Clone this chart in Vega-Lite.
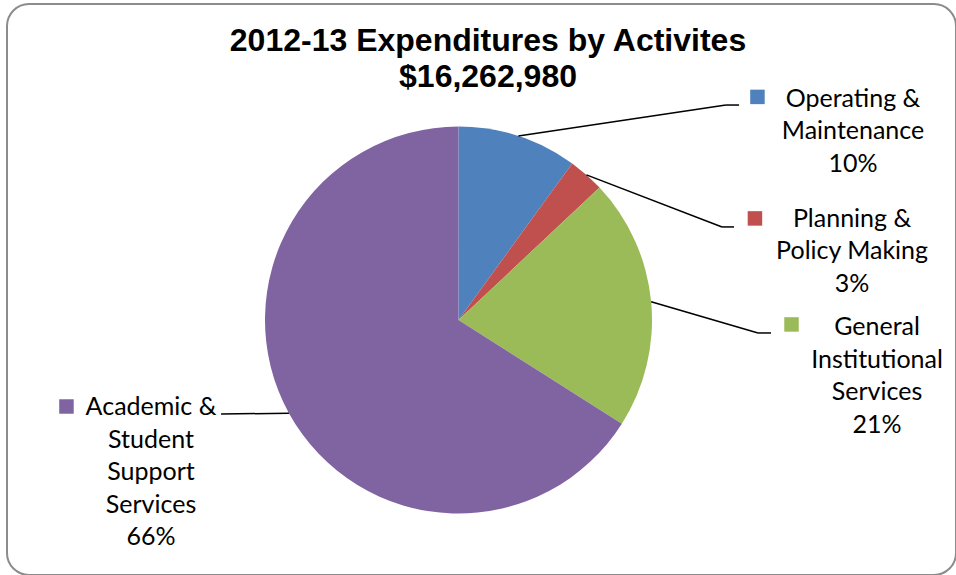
{
  "$schema": "https://vega.github.io/schema/vega-lite/v6.json",
  "width": 949,
  "height": 571,
  "autosize": {"type": "none"},
  "padding": {"left": 7, "top": 4, "right": 0, "bottom": 0},
  "background": "white",
  "title": {
    "text": ["2012-13 Expenditures by Activites", "$16,262,980"],
    "font": "Liberation Sans",
    "fontSize": 32,
    "fontWeight": "bold",
    "lineHeight": 36,
    "color": "black",
    "anchor": "middle",
    "frame": "group",
    "dx": 6.5,
    "baseline": "top",
    "offset": -90
  },
  "data": {
    "values": [
      {"order": 1, "activity": "Operating & Maintenance", "share": 10, "label": ["Operating &", "Maintenance", "10%"]},
      {"order": 2, "activity": "Planning & Policy Making", "share": 3, "label": ["Planning &", "Policy Making", "3%"]},
      {"order": 3, "activity": "General Institutional Services", "share": 21, "label": ["General", "Institutional", "Services", "21%"]},
      {"order": 4, "activity": "Academic & Student Support Services", "share": 66, "label": ["Academic &", "Student", "Support", "Services", "66%"]}
    ]
  },
  "transform": [
    {"window": [{"op": "sum", "field": "share", "as": "cumEnd"}], "sort": [{"field": "order"}]},
    {"joinaggregate": [{"op": "sum", "field": "share", "as": "total"}]},
    {"calculate": "datum.cumEnd - datum.share", "as": "cumStart"},
    {"calculate": "2 * PI * (datum.cumEnd - datum.share / 2) / datum.total", "as": "midAngle"},
    {"calculate": "100 * sin(datum.midAngle)", "as": "startX"},
    {"calculate": "100 * cos(datum.midAngle)", "as": "startY"},
    {"calculate": "[138.2, 136.2, 154.8, -122.7][datum.order - 1]", "as": "elbowX"},
    {"calculate": "[111.1, 48.1, -6.7, -48.6][datum.order - 1]", "as": "elbowY"},
    {"calculate": "[145.0, 142.4, 161.5, -122.7][datum.order - 1]", "as": "endX"},
    {"calculate": "[154.5, 153.2, 172.1, -202.6][datum.order - 1]", "as": "keyX"},
    {"calculate": "[115.3, 52.5, -2.3, -44.7][datum.order - 1]", "as": "keyY"},
    {"calculate": "[203.9, 203.4, 216.3, -158.9][datum.order - 1]", "as": "textX"},
    {"calculate": "[110.1, 48.1, -7.8, -49.1][datum.order - 1]", "as": "textY"}
  ],
  "layer": [
    {
      "mark": {"type": "arc", "outerRadius": 193.5},
      "encoding": {
        "x": {"datum": 0, "type": "quantitative", "scale": {"domain": [-233.33, 257.11], "nice": false, "zero": false}, "axis": null},
        "y": {"datum": 0, "type": "quantitative", "scale": {"domain": [-131.78, 163.31], "nice": false, "zero": false}, "axis": null},
        "theta": {"field": "cumStart", "type": "quantitative", "stack": null, "scale": {"domain": [0, 100], "range": [0, 6.283185307179586]}},
        "theta2": {"field": "cumEnd"},
        "color": {
          "field": "activity",
          "type": "nominal",
          "scale": {
            "domain": ["Operating & Maintenance", "Planning & Policy Making", "General Institutional Services", "Academic & Student Support Services"],
            "range": ["#4F81BD", "#C0504D", "#9BBB59", "#8064A2"]
          },
          "legend": null
        }
      }
    },
    {
      "mark": {"type": "rule", "color": "black", "strokeWidth": 1.5},
      "encoding": {
        "x": {"field": "startX", "type": "quantitative", "scale": {"domain": [-233.33, 257.11], "nice": false, "zero": false}, "axis": null},
        "y": {"field": "startY", "type": "quantitative", "scale": {"domain": [-131.78, 163.31], "nice": false, "zero": false}, "axis": null},
        "x2": {"field": "elbowX"},
        "y2": {"field": "elbowY"}
      }
    },
    {
      "mark": {"type": "rule", "color": "black", "strokeWidth": 1.5},
      "encoding": {
        "x": {"field": "elbowX", "type": "quantitative", "scale": {"domain": [-233.33, 257.11], "nice": false, "zero": false}, "axis": null},
        "y": {"field": "elbowY", "type": "quantitative", "scale": {"domain": [-131.78, 163.31], "nice": false, "zero": false}, "axis": null},
        "x2": {"field": "endX"},
        "y2": {"field": "elbowY"}
      }
    },
    {
      "mark": {"type": "point", "shape": "square", "filled": true, "opacity": 1, "size": 210},
      "encoding": {
        "x": {"field": "keyX", "type": "quantitative", "scale": {"domain": [-233.33, 257.11], "nice": false, "zero": false}, "axis": null},
        "y": {"field": "keyY", "type": "quantitative", "scale": {"domain": [-131.78, 163.31], "nice": false, "zero": false}, "axis": null},
        "color": {"field": "activity", "type": "nominal", "legend": null}
      }
    },
    {
      "mark": {"type": "text", "font": "Lato", "fontSize": 25, "lineHeight": 32.5, "align": "center", "baseline": "alphabetic", "color": "black"},
      "encoding": {
        "x": {"field": "textX", "type": "quantitative", "scale": {"domain": [-233.33, 257.11], "nice": false, "zero": false}, "axis": null},
        "y": {"field": "textY", "type": "quantitative", "scale": {"domain": [-131.78, 163.31], "nice": false, "zero": false}, "axis": null},
        "text": {"field": "label"}
      }
    }
  ],
  "config": {
    "view": {"stroke": "#8c8c8c", "strokeWidth": 2, "cornerRadius": 22},
    "axis": {"grid": false}
  }
}
